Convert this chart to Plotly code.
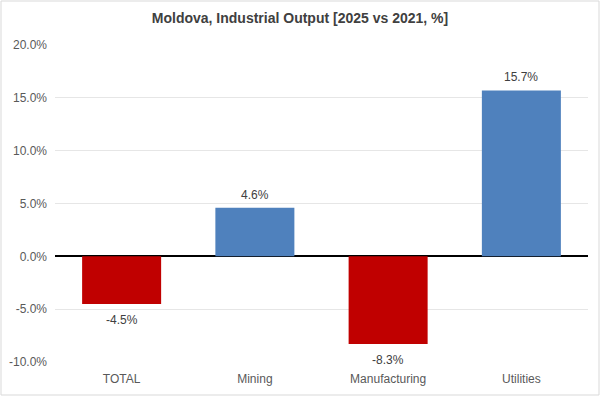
import plotly.graph_objects as go

categories = ["TOTAL", "Mining", "Manufacturing", "Utilities"]
values = [-4.5, 4.6, -8.3, 15.7]
colors = ["#C00000" if v < 0 else "#4F81BD" for v in values]
tick_vals = [-10, -5, 0, 5, 10, 15, 20]
tick_text = [f"{v:.1f}%" for v in tick_vals]

W, H = 600, 396
ml, mr, mt, mb = 55, 12, 45, 34

fig = go.Figure(go.Bar(
    x=categories, y=values,
    marker=dict(color=colors, line=dict(width=0)),
    width=0.593,
    hoverinfo="x+y",
))

for c, v in zip(categories, values):
    fig.add_annotation(x=c, y=v, text=f"{v:.1f}%", showarrow=False,
                       yanchor="middle", yshift=13 if v >= 0 else -16,
                       font=dict(family="Liberation Sans", size=12, color="#404040"))

pw = W - ml - mr
ph = H - mt - mb
fig.add_shape(type="rect", xref="paper", yref="paper",
              x0=-(ml - 1) / pw, x1=1 + (mr - 1) / pw,
              y0=-(mb - 1) / ph, y1=1 + (mt - 1) / ph,
              line=dict(color="#D9D9D9", width=1), layer="below")

fig.update_layout(
    width=W, height=H,
    margin=dict(l=ml, r=mr, t=mt, b=mb, autoexpand=False),
    paper_bgcolor="white", plot_bgcolor="white",
    title=dict(text="<b>Moldova, Industrial Output [2025 vs 2021, %]</b>",
               x=0.5, xanchor="center", y=1 - 18 / H, yanchor="middle",
               font=dict(family="Liberation Sans", size=14, color="#404040")),
    showlegend=False,
    font=dict(family="Liberation Sans", size=12, color="#595959"),
    xaxis=dict(showgrid=False, showline=False, ticks="", ticklabelstandoff=8,
               automargin=False,
               tickfont=dict(size=12, color="#595959")),
    yaxis=dict(range=[-10, 20], tickvals=tick_vals, ticktext=tick_text,
               showgrid=True, gridcolor="#E6E6E6", gridwidth=1,
               zeroline=True, zerolinecolor="#000000", zerolinewidth=1.5,
               showline=False, ticks="", ticklabelstandoff=7,
               automargin=False,
               tickfont=dict(size=12, color="#595959")),
)

fig.write_html("out.html", config={"displayModeBar": False},
               post_script="document.body.style.margin='0';document.body.style.overflow='hidden';")
